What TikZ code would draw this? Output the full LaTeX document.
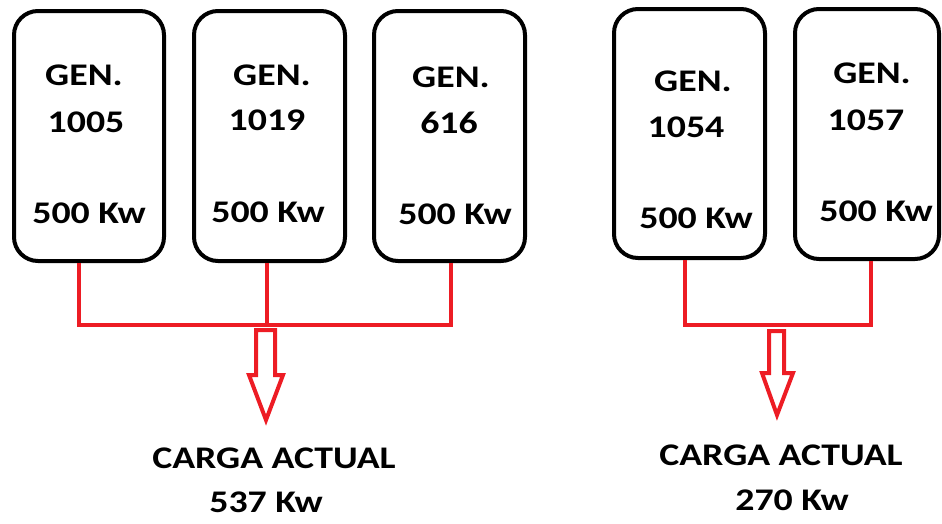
\documentclass[tikz,border=0pt]{standalone}
\usepackage{fontspec}
\usetikzlibrary{calc}
\setmainfont{Carlito}[FakeStretch=1.2]
\definecolor{wirered}{HTML}{ED1C24}
\begin{document}
\begin{tikzpicture}[x=1pt,y=-1pt,
  genbox/.style={draw=black,line width=4pt,rounded corners=24pt,inner sep=0pt},
  lbl/.style={anchor=base,inner sep=0pt,font=\fontsize{31.5}{36}\selectfont\bfseries},
  wire/.style={draw=wirered,line width=4pt},
  hollow/.style={draw=wirered,line width=4pt,line join=miter}]
\useasboundingbox (0,0) rectangle (942,523);
% generator boxes
\node[genbox,minimum width=150pt,minimum height=250pt] (B1) at (89,136) {};
\node[genbox,minimum width=151pt,minimum height=250pt] (B2) at (269.5,136) {};
\node[genbox,minimum width=151pt,minimum height=250pt] (B3) at (449.5,136) {};
\node[genbox,minimum width=151pt,minimum height=249pt] (B4) at (689.5,133.5) {};
\node[genbox,minimum width=144pt,minimum height=250pt] (B5) at (867,134) {};
% labels
\node[lbl] (g1) at (84,85) {GEN.};
\node[lbl] (n1) at (86,132) {1005};
\node[lbl] (p1) at (89,223) {500 Kw};
\node[lbl] (g2) at (272,85) {GEN.};
\node[lbl] (n2) at (267,130) {1019};
\node[lbl] (p2) at (268,222) {500 Kw};
\node[lbl] (g3) at (451,87) {GEN.};
\node[lbl] (n3) at (449,133) {616};
\node[lbl] (p3) at (455,224) {500 Kw};
\node[lbl] (g4) at (693,91) {GEN.};
\node[lbl] (n4) at (686,137) {1054};
\node[lbl] (p4) at (696,228) {500 Kw};
\node[lbl] (g5) at (872,83) {GEN.};
\node[lbl] (n5) at (866,130) {1057};
\node[lbl] (p5) at (876,221) {500 Kw};
% bus coordinates
\coordinate (J1) at (265.5,325);
\coordinate (J2) at (776.5,325);
% left group wiring
\draw[wire] ([xshift=-10pt]B1.south) -- ([xshift=-10pt]B1.south |- J1) -- ([xshift=1.5pt]B3.south |- J1) -- ([xshift=1.5pt]B3.south);
\draw[wire] ([xshift=-2.5pt]B2.south) -- ([xshift=-2.5pt]B2.south |- J1);
% right group wiring
\draw[wire] ([xshift=-4.5pt]B4.south) -- ([xshift=-4.5pt]B4.south |- J2) -- ([xshift=3.5pt]B5.south |- J2) -- ([xshift=3.5pt]B5.south);
% hollow arrows
\draw[hollow] ($(J1)+(-9.5,5)$) -- ++(0,45) -- ++(-7,0) -- ($(J1)+(0.5,95)$) -- ($(J1)+(17.5,50)$) -- ++(-8,0) -- ($(J1)+(9.5,5)$) -- cycle;
\draw[hollow] ($(J2)+(-7.5,6)$) -- ++(0,42) -- ++(-7,0) -- ($(J2)+(0.5,90)$) -- ($(J2)+(16.5,48)$) -- ++(-9,0) -- ($(J2)+(7.5,6)$) -- cycle;
% results
\node[lbl] (c1) at (274,468) {CARGA ACTUAL};
\node[lbl] (v1) at (266,512) {537 Kw};
\node[lbl] (c2) at (781,465) {CARGA ACTUAL};
\node[lbl] (v2) at (792,510) {270 Kw};
\end{tikzpicture}
\end{document}
